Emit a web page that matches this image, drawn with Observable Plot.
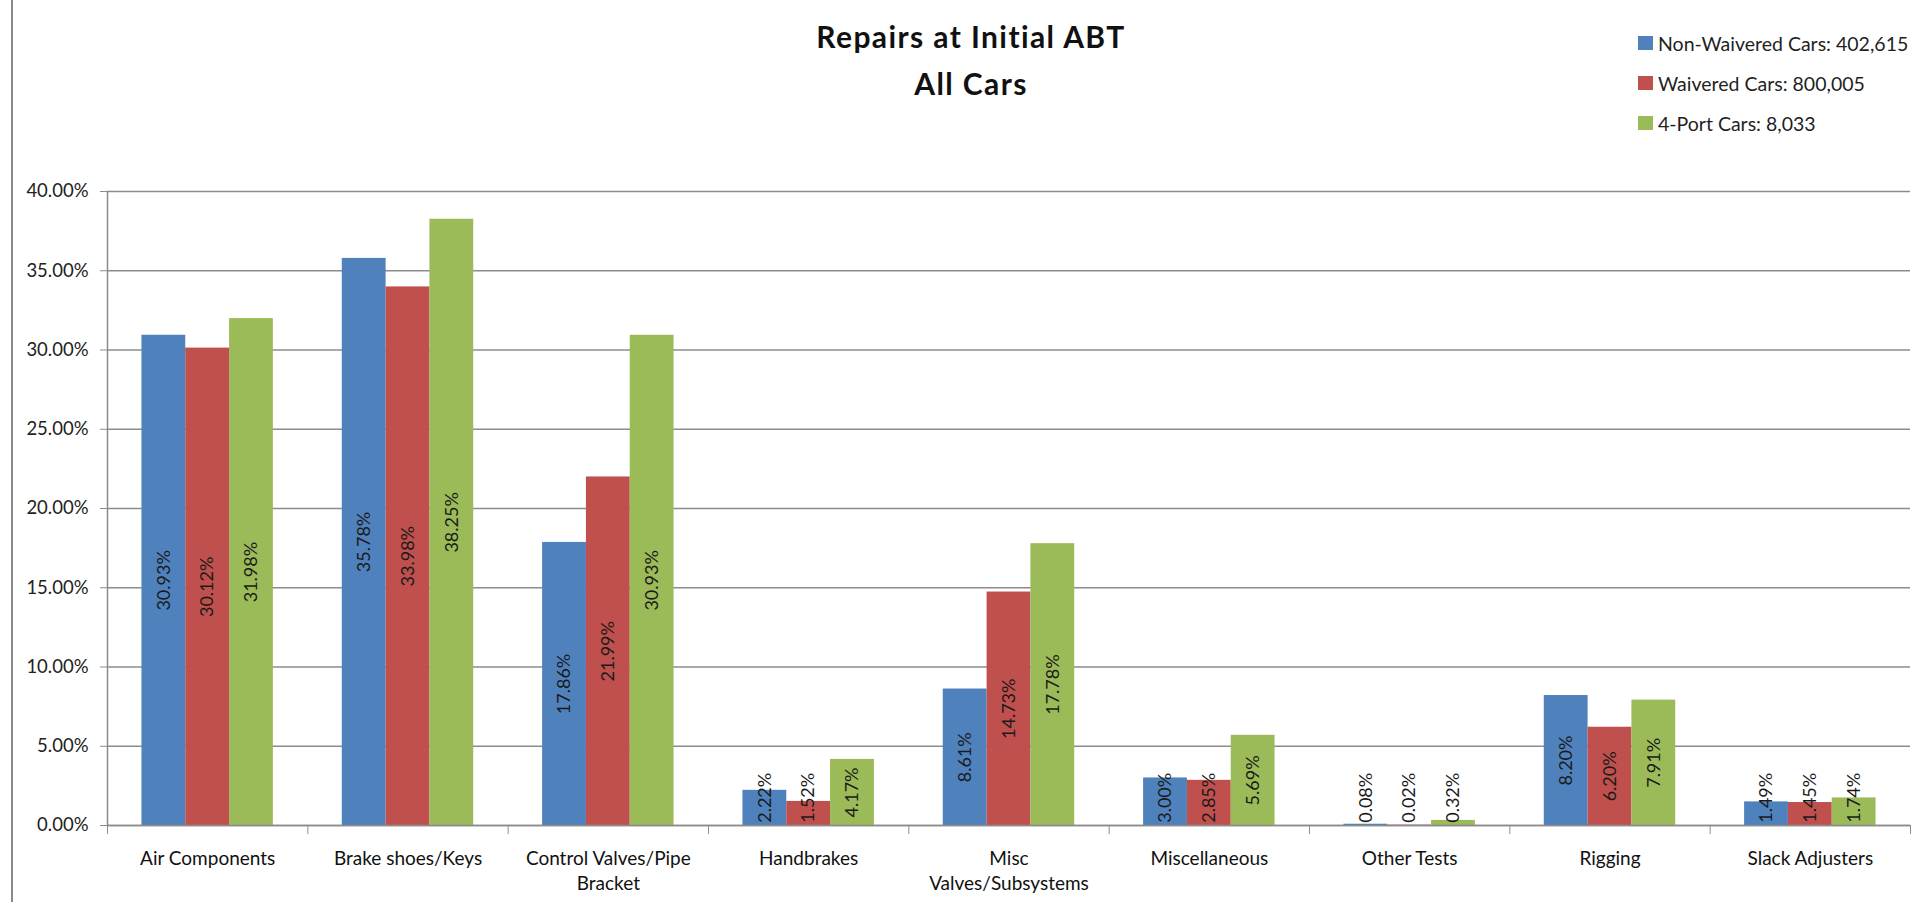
<!DOCTYPE html>
<html>
<head>
<meta charset="utf-8">
<script src="https://cdn.jsdelivr.net/npm/d3@7"></script>
<script src="https://cdn.jsdelivr.net/npm/@observablehq/plot@0.6"></script>
<style>
  html, body { margin: 0; padding: 0; background: #fff; overflow: hidden; }
  #wrap { position: relative; width: 1921px; height: 902px; font-family: Lato, "Open Sans", sans-serif; }
  #border { position: absolute; left: 11px; top: 0; width: 2px; height: 902px; background: #8a8a8a; }
  #header { position: relative; height: 150px; }
  #title { position: absolute; left: 621px; width: 700px; top: 13px; text-align: center;
           font-weight: bold; font-size: 30px; letter-spacing: 1.4px; line-height: 47px; color: #111; }
  #legend { position: absolute; left: 1638px; top: 33px; }
  .row { display: flex; align-items: center; height: 20px; margin-bottom: 20px; font-size: 19.5px; color: #1f1f1f; white-space: nowrap; }
  .sw { width: 15px; height: 14px; margin-right: 5px; }
  #chart svg { display: block; }
</style>
</head>
<body>
<div id="wrap">
  <div id="border"></div>
  <div id="header">
    <div id="title">Repairs at Initial ABT<br>All Cars</div>
    <div id="legend"></div>
  </div>
  <div id="chart"></div>
</div>
<script>
const categories = ["Air Components", "Brake shoes/Keys", "Control Valves/Pipe Bracket", "Handbrakes",
  "Misc Valves/Subsystems", "Miscellaneous", "Other Tests", "Rigging", "Slack Adjusters"];
const categoryLabels = ["Air Components", "Brake shoes/Keys", "Control Valves/Pipe\nBracket", "Handbrakes",
  "Misc\nValves/Subsystems", "Miscellaneous", "Other Tests", "Rigging", "Slack Adjusters"];
const seriesNames = ["Non-Waivered Cars: 402,615", "Waivered Cars: 800,005", "4-Port Cars: 8,033"];
const seriesColors = ["#4F81BD", "#C0504D", "#9BBB59"];
const nonWaivered = [30.93, 35.78, 17.86, 2.22, 8.61, 3.00, 0.08, 8.20, 1.49];
const waivered    = [30.12, 33.98, 21.99, 1.52, 14.73, 2.85, 0.02, 6.20, 1.45];
const fourPort    = [31.98, 38.25, 30.93, 4.17, 17.78, 5.69, 0.32, 7.91, 1.74];
const yTicks = [0, 5, 10, 15, 20, 25, 30, 35, 40];

const seriesValues = [nonWaivered, waivered, fourPort];
const data = categories.flatMap((c, i) => seriesNames.map((s, j) => ({cat: c, i, j, series: s, value: seriesValues[j][i]})));

const barW = 0.2187;
const pad = (1 - 3 * barW) / 2;
const grey = "#8c8c8c";

// legend
const legend = document.getElementById("legend");
seriesNames.forEach((s, j) => {
  const row = document.createElement("div");
  row.className = "row";
  const sw = document.createElement("div");
  sw.className = "sw";
  sw.style.background = seriesColors[j];
  const t = document.createElement("span");
  t.textContent = s;
  row.appendChild(sw); row.appendChild(t);
  legend.appendChild(row);
});

const chart = Plot.plot({
  width: 1921,
  height: 752,
  marginTop: 41,
  marginBottom: 77,
  marginLeft: 107,
  marginRight: 11,
  style: {fontFamily: "Lato, 'Open Sans', sans-serif", fontSize: "18px", color: "#222", background: "white"},
  x: {domain: [0, categories.length]},
  y: {domain: [0, 40]},
  color: {domain: seriesNames, range: seriesColors},
  marks: [
    Plot.ruleY(yTicks, {stroke: grey, strokeWidth: 1.5}),
    Plot.rectY(data, {
      x1: d => d.i + pad + d.j * barW,
      x2: d => d.i + pad + (d.j + 1) * barW,
      y: "value",
      fill: "series"
    }),
    Plot.ruleX([0], {stroke: grey, strokeWidth: 1.5}),
    Plot.ruleY([0], {stroke: grey, strokeWidth: 1.5}),
    Plot.axisY(yTicks, {
      tickSize: 7, tickPadding: 12, stroke: grey, fill: "#222", fontSize: 18.5,
      tickFormat: d => d.toFixed(2) + "%", label: null
    }),
    Plot.axisX(d3.range(categories.length + 1), {
      tickSize: 9, stroke: grey, tickFormat: () => "", label: null
    }),
    Plot.text(categoryLabels, {
      x: (d, i) => i + 0.5, frameAnchor: "bottom", dy: 22, lineAnchor: "top",
      lineHeight: 1.3, text: d => d, fill: "#111", fontSize: 19
    }),
    Plot.text(data, {
      x: d => d.i + pad + (d.j + 0.5) * barW,
      y: d => Math.max(d.value / 2, 1.75),
      text: d => d.value.toFixed(2) + "%",
      rotate: -90, fill: "#1a1a1a", fontSize: 18
    })
  ]
});
document.getElementById("chart").appendChild(chart);
</script>
</body>
</html>
